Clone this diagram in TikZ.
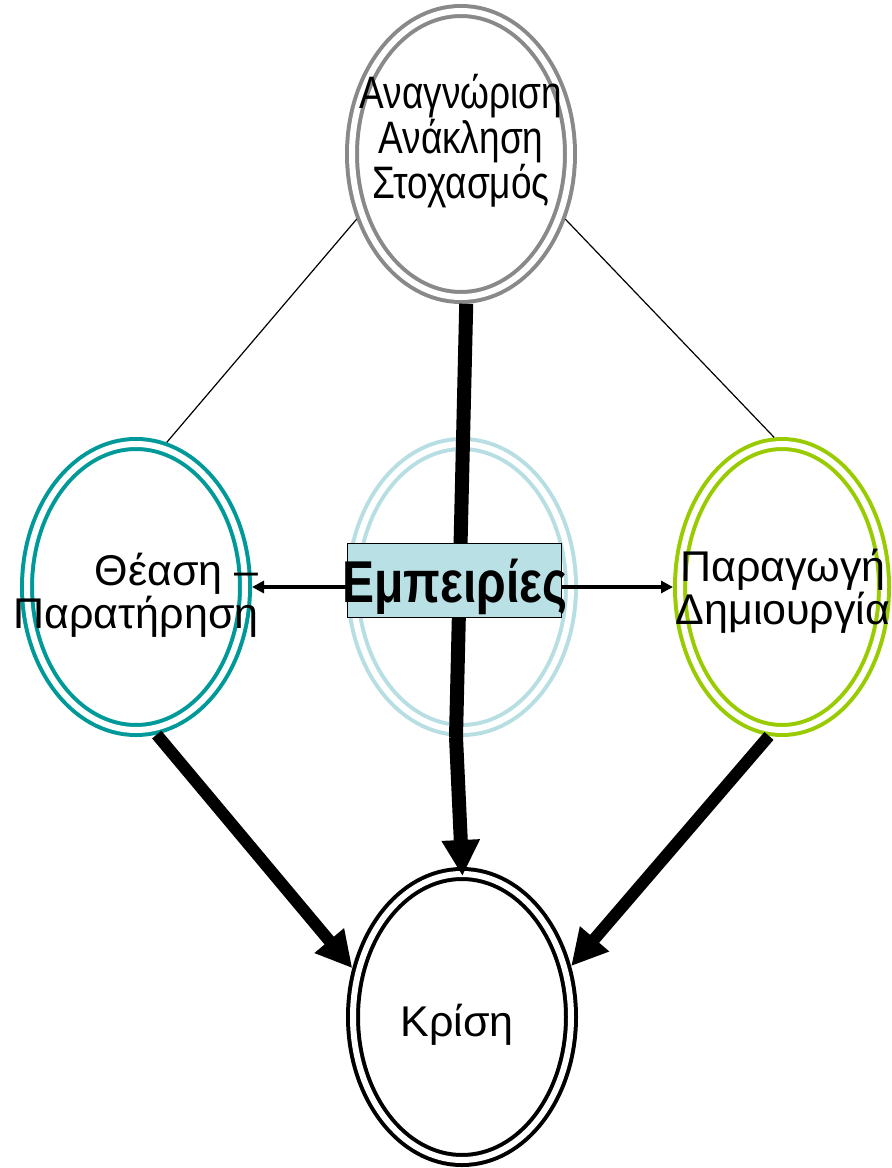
\documentclass[tikz,border=0pt]{standalone}
\usepackage{fontspec}
\setmainfont{Liberation Sans}
\usetikzlibrary{shapes,arrows.meta,calc}
\definecolor{ringgray}{HTML}{898989}
\definecolor{ringteal}{HTML}{009999}
\definecolor{ringgreen}{HTML}{99CC00}
\definecolor{ringblue}{HTML}{B7DFE3}
\definecolor{boxblue}{HTML}{B9E1E5}
\tikzset{
    ring/.style={ellipse, draw=#1, double, double distance=6pt, line width=4pt, inner sep=0pt, outer sep=7pt, minimum width=218pt, minimum height=286pt},
    txt/.style={font=\fontsize{37}{35}\selectfont, align=center, yscale=1.23, transform shape, inner sep=0pt},
    wide txt/.style={font=\fontsize{43}{43}\selectfont, align=center, inner sep=0pt},
    heavy/.tip={Triangle[length=36pt,width=36pt]},
    light/.tip={Triangle[length=12pt,width=12pt]}}

\begin{document}
\begin{tikzpicture}[x=1pt,y=-1pt]
\useasboundingbox (0,0) rectangle (892,1168);
\node[ring=ringgray] (top) at (461,154) {};
\node[ring=ringteal] (left) at (136,587) {};
\node[ring=ringblue] (mid) at (462,587) {};
\node[ring=ringgreen, minimum width=204pt] (right) at (782,587) {};
\node[ring=black] (bot) at (462,1017) {};
\coordinate (bend) at (456,737);

\draw[line width=1.2pt] (top.212) -- (left.78);
\draw[line width=1.2pt] (top.328) -- (right.93);
\draw[line width=14pt] (top.272) -- (bend);
\draw[line width=14pt, -{heavy}, shorten >=-9pt] (bend) -- (bot.north);
\draw[line width=12pt, -{heavy}] (left.278) -- (bot.156);
\draw[line width=12pt, -{heavy}] (right.265) -- (bot.25);

\node[draw, fill=boxblue, line width=1pt, minimum width=214pt, minimum height=74pt, inner sep=0pt] (emp) at (454,580) {};
\draw[line width=4pt, -{light}] (emp.west |- mid.center) -- (left.east);
\draw[line width=4pt, -{light}] (emp.east |- mid.center) -- (right.west);

\node[txt] (topTxt) at (461,141) {Αναγνώριση\\Ανάκληση\\Στοχασμός};
\node[wide txt, align=right] (leftTxt) at (136,595) {Θέαση –\\Παρατήρηση};
\node[wide txt] (rightTxt) at (783,591) {Παραγωγή\\Δημιουργία};
\node[wide txt] (botTxt) at (457,1025) {Κρίση};
\node[txt, font=\fontsize{48}{48}\selectfont\bfseries] (empTxt) at (455,587) {Εμπειρίες};
\end{tikzpicture}
\end{document}
